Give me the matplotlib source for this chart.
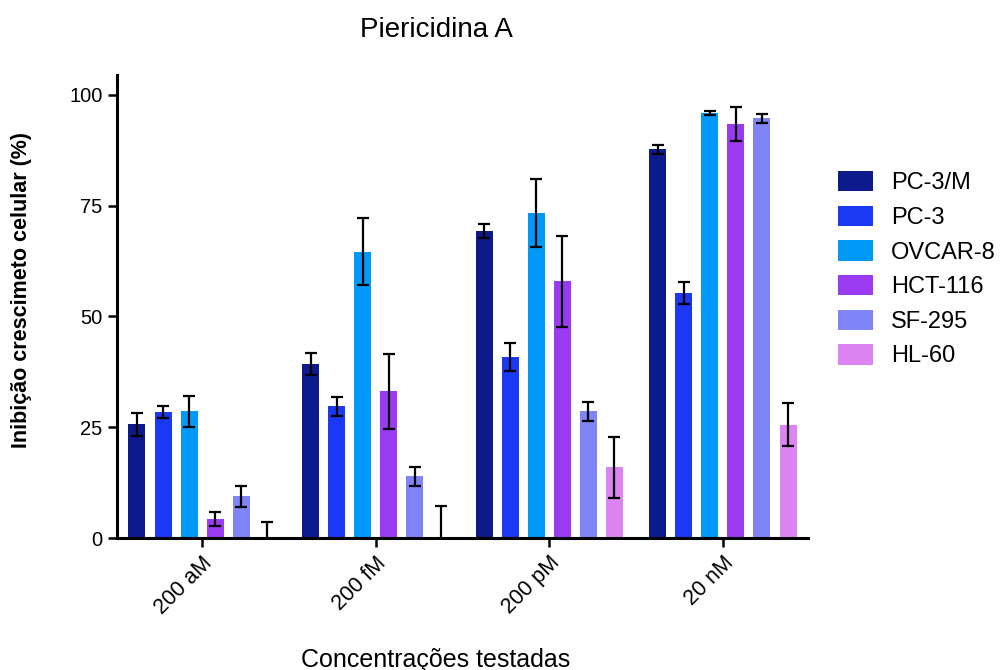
import matplotlib
matplotlib.use("Agg")
import matplotlib.pyplot as plt
import numpy as np

plt.rcParams['font.family'] = ['Liberation Sans', 'DejaVu Sans']

categories = ["200 aM", "200 fM", "200 pM", "20 nM"]
series = ["PC-3/M", "PC-3", "OVCAR-8", "HCT-116", "SF-295", "HL-60"]
colors = ["#0C1A8C", "#1B38F2", "#0099F7", "#9A3BF2", "#7F84F7", "#DD84F3"]

pc3m = [25.7, 39.3, 69.2, 87.7]
pc3 = [28.4, 29.7, 40.8, 55.3]
ovcar8 = [28.6, 64.6, 73.4, 95.9]
hct116 = [4.2, 33.1, 57.9, 93.5]
sf295 = [9.4, 13.9, 28.6, 94.7]
hl60 = [0.0, 0.0, 16.0, 25.6]

pc3m_err = [2.6, 2.4, 1.6, 1.1]
pc3_err = [1.3, 2.2, 3.1, 2.4]
ovcar8_err = [3.5, 7.6, 7.7, 0.5]
hct116_err = [1.6, 8.4, 10.2, 3.8]
sf295_err = [2.4, 2.1, 2.1, 1.0]
hl60_err = [3.6, 7.3, 6.9, 4.9]

values = [pc3m, pc3, ovcar8, hct116, sf295, hl60]
errors = [pc3m_err, pc3_err, ovcar8_err, hct116_err, sf295_err, hl60_err]

fig = plt.figure(figsize=(10.02, 6.70), dpi=100)
ax = fig.add_axes([117/1002, 1-538/670, (808-117)/1002, (538-75)/670])

x = np.arange(len(categories))
step = 0.15
width = 0.098
handles = []
for i, (name, vals, errs, c) in enumerate(zip(series, values, errors, colors)):
    pos = x + (i - 2.5) * step
    b = ax.bar(pos, vals, width=width, color=c, label=name, zorder=2)
    handles.append(b)
    ax.errorbar(pos, vals, yerr=errs, fmt='none', ecolor='black',
                elinewidth=1.6, capsize=4, capthick=1.6, zorder=3)

ax.set_xlim(-0.49, 3.49)
ax.set_ylim(0, 104.5)
ax.set_yticks([0, 25, 50, 75, 100])
ax.set_xticks(x)
ax.set_xticklabels(categories, rotation=45, ha='right', rotation_mode='anchor')

for s in ['top', 'right']:
    ax.spines[s].set_visible(False)
for s in ['left', 'bottom']:
    ax.spines[s].set_linewidth(2.2)
ax.tick_params(axis='both', which='major', length=6.5, width=1.8,
               direction='out', pad=4)
ax.tick_params(axis='y', labelsize=14.5)
ax.tick_params(axis='x', labelsize=15.5)

fig.text(436/1002, 1-30/670, "Piericidina A", ha='center', va='center', fontsize=20)
fig.text(22/1002, 1-290/670, "Inibição crescimeto celular (%)", rotation=90,
         ha='center', va='center', fontsize=15.5, fontweight='bold')
fig.text(436/1002, 1-660/670, "Concentrações testadas", ha='center', va='center', fontsize=18)

fig.legend(handles=handles, labels=series, loc='upper left',
           bbox_to_anchor=(838/1002, 1-171/670), frameon=False, fontsize=17,
           handlelength=1.5, handleheight=0.95, handletextpad=0.75,
           labelspacing=0.48, borderpad=0, borderaxespad=0)

fig.savefig("out.png", dpi=100)
